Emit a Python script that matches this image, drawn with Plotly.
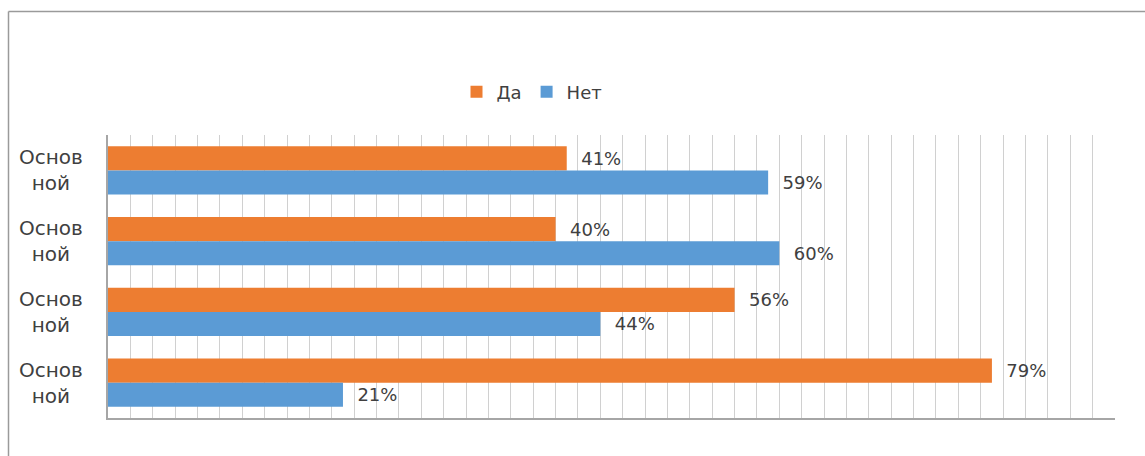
import plotly.graph_objects as go

categories = ["Основной", "Основной", "Основной", "Основной"]
category_labels = ["Основ<br>ной", "Основ<br>ной", "Основ<br>ной", "Основ<br>ной"]
series_names = ["Да", "Нет"]
da_values = [41, 40, 56, 79]
net_values = [59, 60, 44, 21]

W, H = 1145, 456
PL, PR, PT, PB = 108, 1115, 135, 418   # plot area in window pixels
ML, MT = PL, PT
MR, MB = W - PR, H - PB
PW, PH = W - ML - MR, H - MT - MB

def px_x(px):
    return (px - ML) / PW

def px_y(py):
    return (H - MB - py) / PH

ypos = list(range(len(categories)))
font_family = "DejaVu Sans, Open Sans, sans-serif"
text_color = "#404040"

fig = go.Figure()
fig.add_trace(go.Bar(
    name=series_names[0], y=ypos, x=da_values, orientation="h",
    marker=dict(color="#ED7D31", line=dict(width=0)),
    texttemplate="\u00a0\u00a0%{x}%", textposition="outside",
    textfont=dict(size=18, color=text_color, family=font_family),
    cliponaxis=False,
))
fig.add_trace(go.Bar(
    name=series_names[1], y=ypos, x=net_values, orientation="h",
    marker=dict(color="#5B9BD5", line=dict(width=0)),
    texttemplate="\u00a0\u00a0%{x}%", textposition="outside",
    textfont=dict(size=18, color=text_color, family=font_family),
    cliponaxis=False,
))

annotations = []
for i, lab in enumerate(category_labels):
    annotations.append(dict(
        x=px_x(51), xref="paper", y=ypos[i], yref="y", text=lab,
        showarrow=False, xanchor="center", yanchor="middle", align="center",
        font=dict(size=20, color=text_color, family=font_family),
    ))

border = dict(color="#9a9a9a", width=1.5)
fig.update_layout(
    width=W, height=H,
    margin=dict(l=ML, r=MR, t=MT, b=MB),
    paper_bgcolor="white", plot_bgcolor="white",
    barmode="group", bargap=0.32, bargroupgap=0,
    showlegend=True,
    legend=dict(orientation="h", x=px_x(532), xanchor="center",
                y=px_y(92), yanchor="middle",
                font=dict(size=18, color=text_color, family=font_family),
                itemwidth=30, traceorder="normal"),
    xaxis=dict(range=[0, 90], dtick=2, showgrid=True, gridcolor="#d0d0d0",
               gridwidth=1, showticklabels=False, zeroline=False,
               showline=True, linecolor="#a6a6a6", linewidth=1.5, ticks="",
               fixedrange=True),
    yaxis=dict(range=[3.5, -0.5], tickvals=ypos, showticklabels=False,
               showgrid=False, zeroline=False, showline=True,
               linecolor="#a6a6a6", linewidth=1.5, ticks=""),
    annotations=annotations,
    shapes=[
        dict(type="line", xref="paper", yref="paper",
             x0=px_x(8.5), x1=px_x(1200), y0=px_y(11.5), y1=px_y(11.5),
             line=border, layer="below"),
        dict(type="line", xref="paper", yref="paper",
             x0=px_x(8.5), x1=px_x(8.5), y0=px_y(11.5), y1=px_y(500),
             line=border, layer="below"),
    ],
)

fig.write_html(
    "out.html",
    config={"displayModeBar": False},
    post_script="document.body.style.margin='0';"
                "document.documentElement.style.overflow='hidden';"
                "document.body.style.overflow='hidden';",
)
